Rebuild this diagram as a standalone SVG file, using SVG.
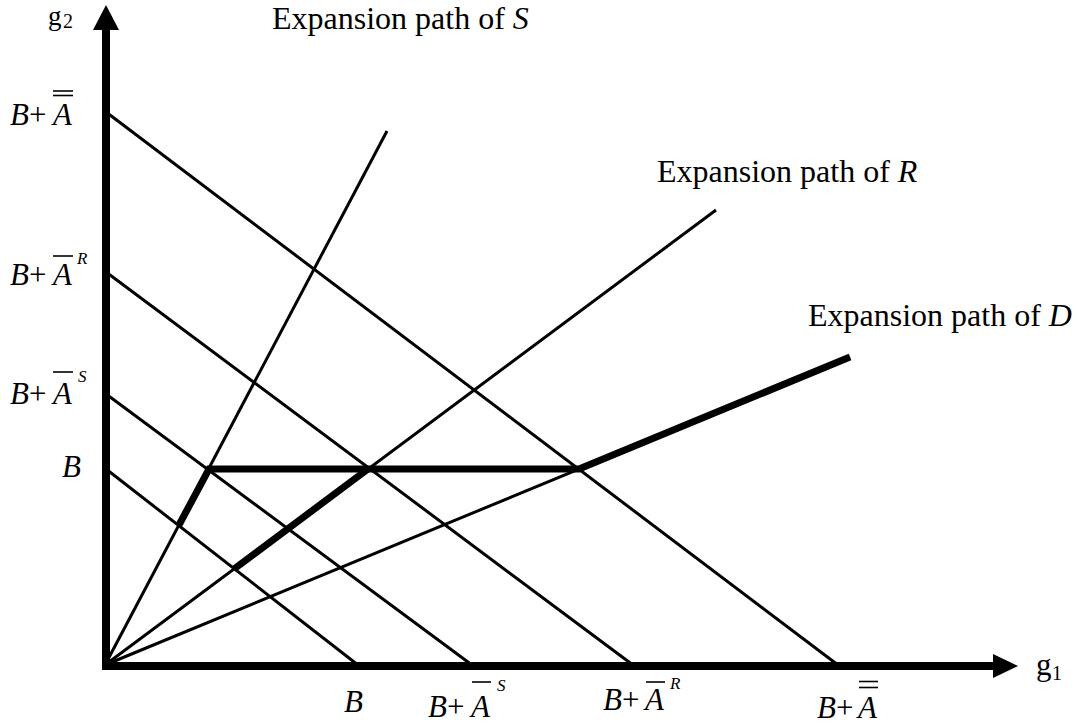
<svg xmlns="http://www.w3.org/2000/svg" width="1078" height="725" viewBox="0 0 1078 725">
<style>
text{font-family:"Liberation Serif","Times New Roman",serif;fill:#000}
.lbl{font-size:31px}
.exp{font-size:32px}
.it{font-style:italic}
.sup{font-size:17px;font-style:italic}
.sub{font-size:20px}
.thin{stroke:#000;stroke-width:3;fill:none}
.thick{stroke:#000;stroke-width:7;fill:none}
.bar{stroke:#000;stroke-width:1.6}
.axis{stroke:#000;stroke-width:8;fill:none}
</style>
<rect width="1078" height="725" fill="#fff"/>

<g id="axes">
  <line class="axis" x1="106" y1="670" x2="106" y2="26"/>
  <polygon points="106,5 93,30 119,30" fill="#000"/>
  <line class="axis" x1="102" y1="666" x2="996" y2="666"/>
  <polygon points="1018,666 993,654 993,678" fill="#000"/>
  <text x="48" y="25" style="font-size:27px">g<tspan class="sub" x="63" y="28">2</tspan></text>
  <text x="1036" y="675" style="font-size:31px">g<tspan class="sub" x="1052" y="680">1</tspan></text>
</g>

<g id="connectors">
  <line id="budget-B" class="thin" x1="106" y1="469" x2="358" y2="665"/>
  <line id="budget-AS" class="thin" x1="106" y1="394" x2="472" y2="665"/>
  <line id="budget-AR" class="thin" x1="106" y1="272" x2="633" y2="665"/>
  <line id="budget-A" class="thin" x1="106" y1="112" x2="838" y2="665"/>
  <line id="path-S" class="thin" x1="105" y1="665" x2="387" y2="131"/>
  <line id="path-R" class="thin" x1="105" y1="665" x2="716" y2="210"/>
  <line id="path-D" class="thin" x1="105" y1="665" x2="850" y2="357"/>
  <polyline id="thick-path" class="thick" points="179,525 209,469 579,469 850,357"/>
  <line class="thick" x1="234" y1="569" x2="368" y2="469"/>
</g>

<g id="label-S">
  <text class="exp" x="272" y="29">Expansion path of <tspan class="it">S</tspan></text>
</g>
<g id="label-R">
  <text class="exp" x="657" y="182">Expansion path of <tspan class="it">R</tspan></text>
</g>
<g id="label-D">
  <text class="exp" x="808" y="326">Expansion path of <tspan class="it">D</tspan></text>
</g>

<g id="y-label-AA">
  <text class="lbl" y="125"><tspan class="it" x="10">B</tspan><tspan x="29">+</tspan><tspan class="it" x="53">A</tspan></text>
  <line class="bar" x1="53" y1="91" x2="73" y2="91"/>
  <line class="bar" x1="53" y1="95.5" x2="73" y2="95.5"/>
</g>
<g id="y-label-AR">
  <text class="lbl" y="285"><tspan class="it" x="10">B</tspan><tspan x="29">+</tspan><tspan class="it" x="53">A</tspan></text>
  <line class="bar" x1="53" y1="256" x2="73" y2="256"/>
  <text class="sup" x="77" y="264">R</text>
</g>
<g id="y-label-AS">
  <text class="lbl" y="404"><tspan class="it" x="10">B</tspan><tspan x="29">+</tspan><tspan class="it" x="53">A</tspan></text>
  <line class="bar" x1="53" y1="372" x2="73" y2="372"/>
  <text class="sup" x="78" y="382">S</text>
</g>
<g id="y-label-B">
  <text class="lbl it" x="62" y="477">B</text>
</g>

<g id="x-label-B">
  <text class="lbl it" x="344" y="712">B</text>
</g>
<g id="x-label-AS">
  <text class="lbl" y="717"><tspan class="it" x="428">B</tspan><tspan x="447">+</tspan><tspan class="it" x="471">A</tspan></text>
  <line class="bar" x1="472" y1="682" x2="491" y2="682"/>
  <text class="sup" x="497" y="691">S</text>
</g>
<g id="x-label-AR">
  <text class="lbl" y="710"><tspan class="it" x="603">B</tspan><tspan x="622">+</tspan><tspan class="it" x="645">A</tspan></text>
  <line class="bar" x1="646" y1="682" x2="665" y2="682"/>
  <text class="sup" x="670" y="689">R</text>
</g>
<g id="x-label-AA">
  <text class="lbl" y="718"><tspan class="it" x="817">B</tspan><tspan x="836">+</tspan><tspan class="it" x="858">A</tspan></text>
  <line class="bar" x1="859" y1="681.5" x2="878" y2="681.5"/>
  <line class="bar" x1="859" y1="687.5" x2="878" y2="687.5"/>
</g>
</svg>
